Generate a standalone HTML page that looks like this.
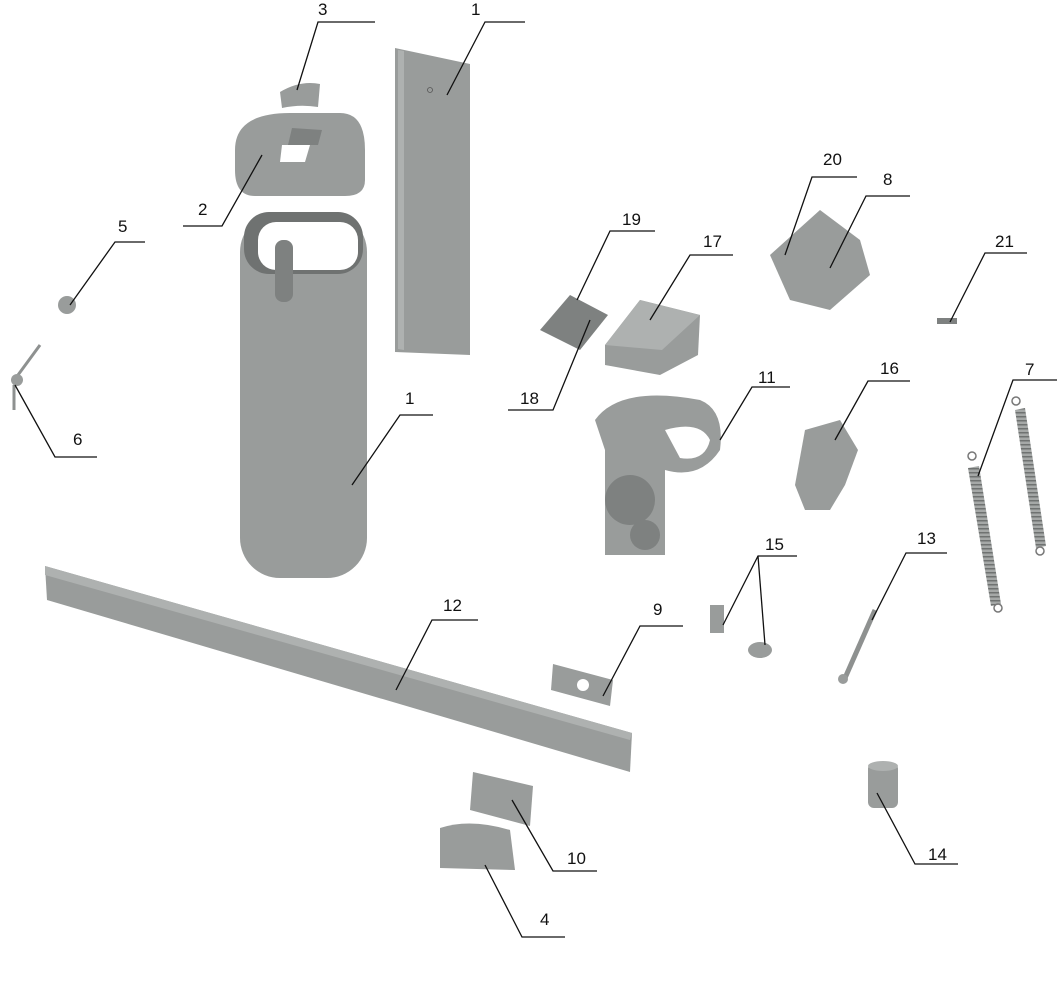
<!DOCTYPE html>
<html><head><meta charset="utf-8"><style>
body{margin:0;background:#fff}
svg{display:block}
text{font-family:"Liberation Sans",sans-serif;font-size:17px;fill:#111}
.l{stroke:#111;stroke-width:1.3;fill:none}
.p{fill:#999c9b}
.d{fill:#7e8180}
.k{fill:#aeb1b0}
</style></head><body>
<svg width="1057" height="1000" viewBox="0 0 1057 1000">
<defs>
<pattern id="coil" width="4" height="4" patternUnits="userSpaceOnUse">
<rect width="4" height="4" fill="#a5a8a7"/><rect width="4" height="1.5" fill="#6f7271"/>
</pattern>
</defs>
<!-- column -->
<rect class="p" x="240" y="212" width="127" height="366" rx="40"/>
<rect fill="#6f7271" x="244" y="212" width="119" height="62" rx="25"/>
<rect fill="#fff" x="258" y="222" width="100" height="48" rx="18"/>
<rect class="d" x="275" y="240" width="18" height="62" rx="8"/>
<!-- door panel -->
<polygon class="p" points="395,48 470,64 470,355 395,352"/>
<polygon class="k" points="398,50 404,51 404,350 398,349"/>
<circle cx="430" cy="90" r="2.5" fill="none" stroke="#555" stroke-width="0.8"/>
<!-- cap -->
<path class="p" d="M235,150 Q235,113 290,113 L340,113 Q365,113 365,150 L365,180 Q365,196 345,196 L255,196 Q235,196 235,170 Z"/>
<polygon class="d" points="292,128 322,130 318,145 288,145"/>
<polygon fill="#fff" points="282,145 310,145 305,162 280,162"/>
<!-- part 3 -->
<path class="p" d="M280,92 Q300,80 320,84 L318,107 Q300,104 282,108 Z"/>
<!-- 5 lock -->
<circle class="p" cx="67" cy="305" r="9"/>
<!-- 6 keys -->
<line x1="18" y1="375" x2="40" y2="345" stroke="#8e9190" stroke-width="3"/>
<circle class="p" cx="17" cy="380" r="6"/>
<line x1="14" y1="385" x2="14" y2="410" stroke="#8e9190" stroke-width="3"/>
<!-- beam -->
<polygon class="p" points="45,566 632,733 630,772 47,600"/>
<polygon class="k" points="45,566 632,733 630,740 45,575"/>
<!-- 19 board -->
<polygon class="d" points="540,330 570,295 608,315 580,350"/>
<!-- 17 box -->
<polygon class="p" points="605,345 640,300 700,315 698,355 660,375 605,365"/>
<polygon class="k" points="605,345 640,300 700,315 662,350"/>
<!-- 20/8 bracket -->
<polygon class="p" points="770,255 820,210 860,240 870,275 830,310 790,300"/>
<!-- 21 -->
<rect class="d" x="937" y="318" width="20" height="6"/>
<!-- 11 frame -->
<path class="p" d="M595,420 Q620,385 700,400 Q725,410 720,450 Q700,480 665,470 L665,555 L605,555 L605,450 Z"/>
<path fill="#fff" d="M665,430 Q700,420 710,440 Q705,462 680,458 Z"/>
<circle class="d" cx="630" cy="500" r="25"/>
<circle class="d" cx="645" cy="535" r="15"/>
<!-- 16 motor -->
<path class="p" d="M805,430 L840,420 L858,450 L845,485 L830,510 L805,510 L795,485 Z"/>
<!-- 7 springs -->
<polygon fill="url(#coil)" points="968,468 979,466 1001,604 991,606"/>
<polygon fill="url(#coil)" points="1015,410 1025,408 1046,546 1036,548"/>
<circle cx="972" cy="456" r="4" fill="none" stroke="#777" stroke-width="1.5"/>
<circle cx="998" cy="608" r="4" fill="none" stroke="#777" stroke-width="1.5"/>
<circle cx="1016" cy="401" r="4" fill="none" stroke="#777" stroke-width="1.5"/>
<circle cx="1040" cy="551" r="4" fill="none" stroke="#777" stroke-width="1.5"/>
<!-- 15 -->
<rect class="p" x="710" y="605" width="14" height="28"/>
<ellipse class="p" cx="760" cy="650" rx="12" ry="8"/>
<!-- 13 rod -->
<line x1="845" y1="678" x2="875" y2="610" stroke="#8e9190" stroke-width="5"/>
<circle class="p" cx="843" cy="679" r="5"/>
<!-- 9 plate -->
<polygon class="p" points="553,664 613,680 610,706 551,690"/>
<circle fill="#fff" cx="583" cy="685" r="6"/>
<!-- 10 -->
<polygon class="p" points="473,772 533,786 530,826 470,810"/>
<!-- 4 -->
<path class="p" d="M440,828 Q470,818 510,830 L515,870 L440,868 Z"/>
<!-- 14 -->
<rect class="p" x="868" y="763" width="30" height="45" rx="6"/>
<ellipse class="k" cx="883" cy="766" rx="15" ry="5"/>

<!-- leaders -->
<g class="l">
<polyline points="375,22 318,22 297,90"/>
<polyline points="525,22 485,22 447,95"/>
<polyline points="183,226 222,226 262,155"/>
<polyline points="145,242 115,242 70,305"/>
<polyline points="97,457 55,457 15,385"/>
<polyline points="433,415 400,415 352,485"/>
<polyline points="655,231 610,231 577,300"/>
<polyline points="733,255 690,255 650,320"/>
<polyline points="508,410 553,410 590,320"/>
<polyline points="857,177 812,177 785,255"/>
<polyline points="910,196 866,196 830,268"/>
<polyline points="1027,253 985,253 950,322"/>
<polyline points="790,387 752,387 720,440"/>
<polyline points="910,381 868,381 835,440"/>
<polyline points="1057,380 1013,380 978,476"/>
<polyline points="797,556 758,556 723,625"/>
<line x1="758" y1="556" x2="765" y2="645"/>
<polyline points="947,553 906,553 872,620"/>
<polyline points="478,620 432,620 396,690"/>
<polyline points="683,626 640,626 603,696"/>
<polyline points="597,871 553,871 512,800"/>
<polyline points="958,864 915,864 877,793"/>
<polyline points="565,937 522,937 485,865"/>
</g>
<text x="318" y="15">3</text>
<text x="471" y="15">1</text>
<text x="198" y="215">2</text>
<text x="118" y="232">5</text>
<text x="73" y="445">6</text>
<text x="405" y="404">1</text>
<text x="622" y="225">19</text>
<text x="703" y="247">17</text>
<text x="520" y="404">18</text>
<text x="823" y="165">20</text>
<text x="883" y="185">8</text>
<text x="995" y="247">21</text>
<text x="758" y="383">11</text>
<text x="880" y="374">16</text>
<text x="1025" y="375">7</text>
<text x="765" y="550">15</text>
<text x="917" y="544">13</text>
<text x="443" y="611">12</text>
<text x="653" y="615">9</text>
<text x="567" y="864">10</text>
<text x="928" y="860">14</text>
<text x="540" y="925">4</text>
</svg>
</body></html>
